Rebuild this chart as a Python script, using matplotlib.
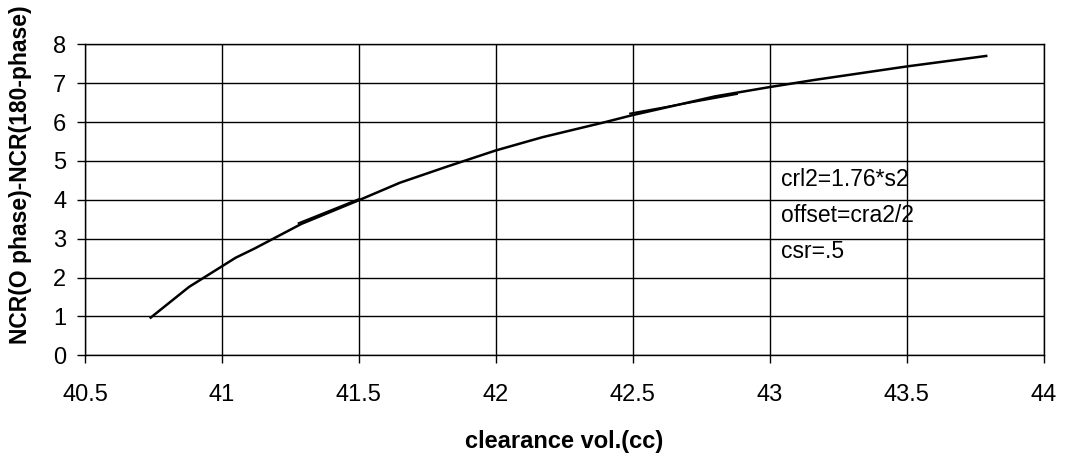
import matplotlib.pyplot as plt

plt.rcParams['font.family'] = ['Liberation Sans', 'DejaVu Sans']

# clearance volume (cc) vs NCR difference
clearance = [40.74, 40.88, 41.05, 41.12, 41.29, 41.50, 41.65, 41.82, 42.00,
             42.17, 42.40, 42.50, 42.80, 43.00, 43.16, 43.50, 43.79]
ncr_diff = [0.97, 1.76, 2.51, 2.75, 3.38, 3.99, 4.44, 4.85, 5.27,
            5.61, 6.00, 6.18, 6.66, 6.90, 7.08, 7.43, 7.70]

# short overlapping runs from repeated calculations
rerun1_x = [41.28, 41.50]
rerun1_y = [3.40, 4.02]
rerun2_x = [42.49, 42.88]
rerun2_y = [6.22, 6.72]

note = "crl2=1.76*s2\noffset=cra2/2\ncsr=.5"

fig = plt.figure(figsize=(10.65, 4.58), dpi=100)
ax = fig.add_axes([0.0798, 0.2242, 0.9002, 0.6791])

ax.plot(clearance, ncr_diff, color='black', lw=1.8, zorder=3)
ax.plot(rerun1_x, rerun1_y, color='black', lw=1.4, zorder=3)
ax.plot(rerun2_x, rerun2_y, color='black', lw=1.4, zorder=3)

ax.set_xlim(40.5, 44)
ax.set_ylim(0, 8)
ax.set_xticks([40.5, 41, 41.5, 42, 42.5, 43, 43.5, 44])
ax.set_xticklabels(['40.5', '41', '41.5', '42', '42.5', '43', '43.5', '44'])
ax.set_yticks(range(0, 9))
ax.grid(True, color='black', lw=1.0)
ax.set_axisbelow(True)
for s in ax.spines.values():
    s.set_color('black')
    s.set_linewidth(1.0)

ax.tick_params(axis='both', direction='out', length=5.5, width=1.0,
               labelsize=17, colors='black')
ax.tick_params(axis='x', pad=15)
ax.tick_params(axis='y', pad=8)

ax.text(43.04, 4.82, note, fontsize=16.5, va='top', ha='left',
        linespacing=1.72)

ax.set_xlabel("clearance vol.(cc)", fontsize=17, fontweight='bold')
ax.xaxis.set_label_coords(0.4995, -0.24)
ax.set_ylabel("NCR(O phase)-NCR(180-phase)", fontsize=16.5, fontweight='bold')
ax.yaxis.set_label_coords(-0.055, 0.58)

fig.savefig('out.png', dpi=100)
